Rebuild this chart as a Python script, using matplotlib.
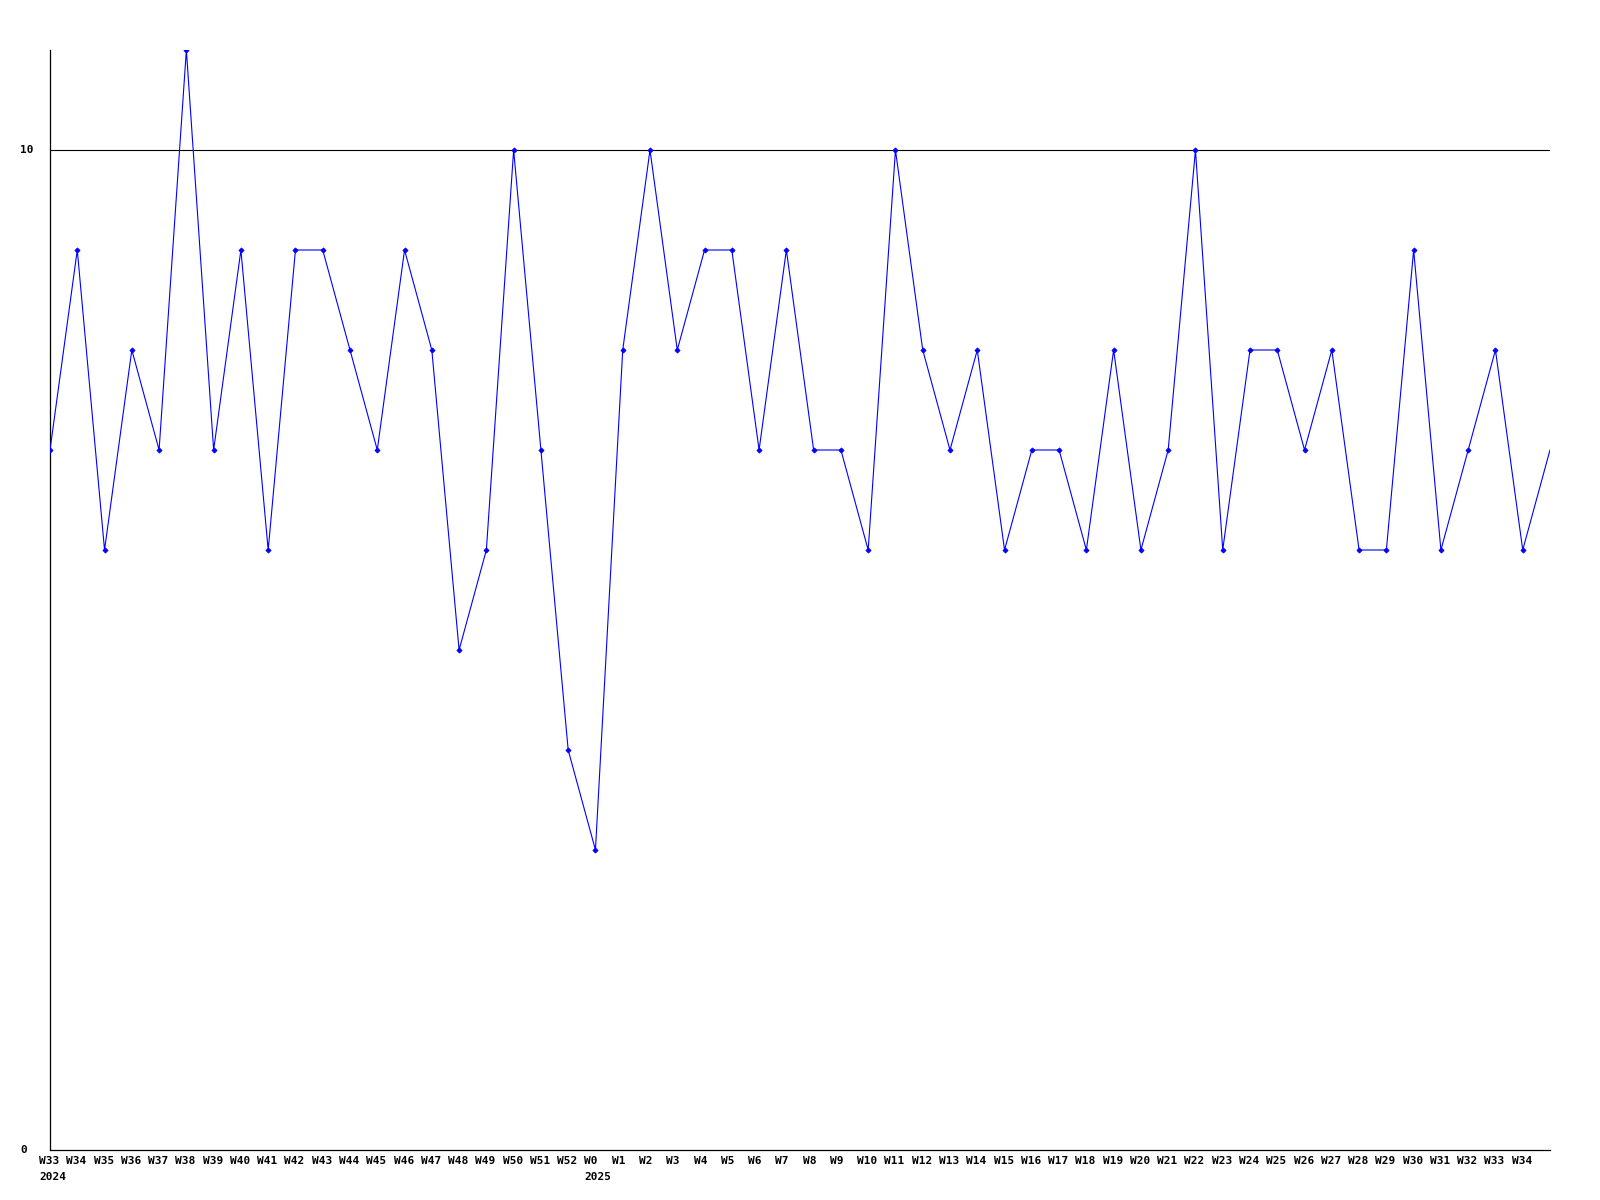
"""Contagem semanal (W33/2024 a W34/2025) em linha simples."""

import matplotlib
matplotlib.use("Agg")
import matplotlib.pyplot as plt
from matplotlib.transforms import offset_copy

# dados
weeks = (
    [f"W{n}" for n in range(33, 53)]
    + ["W0"]
    + [f"W{n}" for n in range(1, 35)]
    + [""]  # semana corrente, sem rótulo
)
values = [
    7, 9, 6, 8, 7, 11, 7, 9, 6, 9,
    9, 8, 7, 9, 8, 5, 6, 10, 7, 4,
    3, 8, 10, 8, 9, 9, 7, 9, 7, 7,
    6, 10, 8, 7, 8, 6, 7, 7, 6, 8,
    6, 7, 10, 6, 8, 8, 7, 8, 6, 6,
    9, 6, 7, 8, 6, 7,
]
year_labels = {0: "2024", 20: "2025"}
y_ticks = [0, 10]

_CLR_LINE = "#0000FF"
_FONT = dict(family="DejaVu Sans Mono", fontweight="bold", fontsize=8)

fig = plt.figure(figsize=(16, 12), dpi=100)
fig.patch.set_facecolor("white")
ax = fig.add_axes([50 / 1600, 50 / 1200, 1500 / 1600, 1100 / 1200])

xs = list(range(len(values)))
ax.plot(xs, values, color=_CLR_LINE, linewidth=0.8,
        marker="D", markersize=2.6, markeredgewidth=0.6,
        markevery=list(range(len(values) - 1)), zorder=3)

ax.set_xlim(0, len(values) - 1)
ax.set_ylim(0, 11)
for side in ("top", "right"):
    ax.spines[side].set_visible(False)
for side in ("left", "bottom"):
    ax.spines[side].set_linewidth(0.9)
    ax.spines[side].set_color("black")
ax.set_xticks([])
ax.set_yticks([])

# linha de referência em 10
ax.axhline(10, color="black", linewidth=0.8, zorder=1)

# rótulos do eixo x (semana + ano)
tr_week = offset_copy(ax.get_xaxis_transform(), fig=fig, x=-11, y=-6, units="dots")
tr_year = offset_copy(ax.get_xaxis_transform(), fig=fig, x=-11, y=-22, units="dots")
for i, lbl in enumerate(weeks):
    if lbl:
        ax.text(i, 0, lbl, transform=tr_week, ha="left", va="top", **_FONT)
    if i in year_labels:
        ax.text(i, 0, year_labels[i], transform=tr_year, ha="left", va="top", **_FONT)

# rótulos do eixo y
tr_y = offset_copy(ax.get_yaxis_transform(), fig=fig, x=-30, y=0, units="dots")
for v in y_ticks:
    ax.text(0, v, str(v), transform=tr_y, ha="left", va="center", **_FONT)

fig.savefig("out.png", dpi=100, facecolor="white")
plt.close(fig)
